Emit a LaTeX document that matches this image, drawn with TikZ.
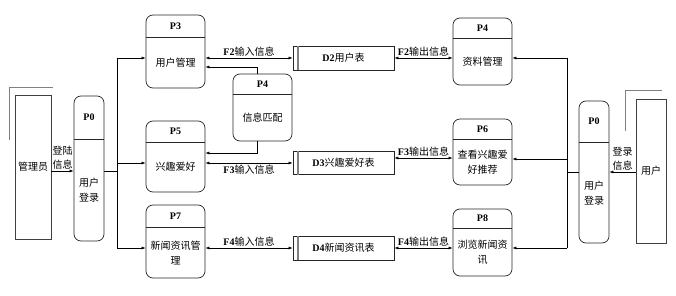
\documentclass[tikz,border=0pt]{standalone}
\usepackage{fontspec}
\setmainfont{Liberation Serif}
\newfontfamily\cjk{Noto Sans CJK SC}[BoldFont={Noto Sans CJK SC}]
\usepackage{tikz}
\usetikzlibrary{arrows.meta,positioning,calc}

\begin{document}
\begin{tikzpicture}[
  x=1pt, y=-1pt,
  every node/.style={font=\fontsize{10}{15}\selectfont\bfseries},
  proc/.style    ={draw=black!85, line width=0.7pt, rounded corners=7pt, minimum width=59pt, inner sep=0pt},
  pid/.style     ={minimum width=59pt, inner sep=0pt},
  ptext/.style   ={align=center, inner sep=0pt, font=\fontsize{10}{15}\selectfont\cjk},
  divider/.style ={draw=black!85, line width=0.8pt},
  store/.style   ={draw=black!85, line width=0.7pt, minimum width=101pt, minimum height=24pt, inner sep=0pt},
  storebar/.style={draw=gray, line width=1.6pt},
  entity/.style  ={draw=black!75, line width=0.7pt, inner sep=0pt, align=center, font=\fontsize{10}{15}\selectfont\cjk},
  shade/.style   ={draw=gray, line width=1.6pt},
  flow/.style    ={-{Latex[length=4pt,width=3pt]}, line width=0.6pt},
  dflow/.style   ={{Latex[length=4pt,width=3pt]}-{Latex[length=4pt,width=3pt]}, line width=0.6pt},
  lbl/.style     ={inner sep=1pt, align=center},
  clbl/.style    ={inner sep=1pt, align=center, font=\fontsize{10}{14}\selectfont\cjk},
]
  \useasboundingbox (0,0) rectangle (676,296);

  % external entities
  \node[entity, minimum width=36pt, minimum height=144pt] (admin) at (33,167) {管理员};
  \draw[shade] ([xshift=-5pt,yshift=-45pt]admin.north west) -- ([xshift=-5pt,yshift=7pt]admin.north west)
               -- ([xshift=2pt,yshift=7pt]admin.north east);
  \node[entity, minimum width=30pt, minimum height=144pt] (user) at (651,171) {用户};
  \draw[shade] ([xshift=-10pt,yshift=-32pt]user.north west) -- ([xshift=-10pt,yshift=8pt]user.north west)
               -- ([xshift=-4pt,yshift=8pt]user.north east);

  % processes
  \node[proc, minimum width=30pt, minimum height=145pt] (p0a) at (89,168.5) {};
  \node[pid, minimum width=30pt, minimum height=43pt, below=0pt of p0a.north] (p0a-id) {P0};
  \draw[divider] (p0a-id.south -| p0a.west) -- (p0a-id.south -| p0a.east);
  \node[ptext] (p0a-txt) at ($(p0a-id.south)!0.5!(p0a.south)$) {用户\\登录};

  \node[proc, minimum height=73pt] (p3) at (175.5,51.5) {};
  \node[pid, minimum height=22pt, below=0pt of p3.north] (p3-id) {P3};
  \draw[divider] (p3-id.south -| p3.west) -- (p3-id.south -| p3.east);
  \node[ptext] (p3-txt) at ($(p3-id.south)!0.5!(p3.south)$) {用户管理};

  \node[proc, minimum height=71pt] (p5) at (175.5,156.5) {};
  \node[pid, minimum height=21pt, below=0pt of p5.north] (p5-id) {P5};
  \draw[divider] (p5-id.south -| p5.west) -- (p5-id.south -| p5.east);
  \node[ptext] (p5-txt) at ($(p5-id.south)!0.5!(p5.south)$) {兴趣爱好};

  \node[proc, minimum height=73pt] (p7) at (175.5,241.5) {};
  \node[pid, minimum height=22pt, below=0pt of p7.north] (p7-id) {P7};
  \draw[divider] (p7-id.south -| p7.west) -- (p7-id.south -| p7.east);
  \node[ptext] (p7-txt) at ($(p7-id.south)!0.5!(p7.south)$) {新闻资讯管\\理};

  \node[proc, minimum height=67pt] (p4m) at (262.5,107.5) {};
  \node[pid, minimum height=20pt, below=0pt of p4m.north] (p4m-id) {P4};
  \draw[divider] (p4m-id.south -| p4m.west) -- (p4m-id.south -| p4m.east);
  \node[ptext] (p4m-txt) at ($(p4m-id.south)!0.5!(p4m.south)$) {信息匹配};

  \node[proc, minimum height=67pt] (p4) at (482.5,51.5) {};
  \node[pid, minimum height=20pt, below=0pt of p4.north] (p4-id) {P4};
  \draw[divider] (p4-id.south -| p4.west) -- (p4-id.south -| p4.east);
  \node[ptext] (p4-txt) at ($(p4-id.south)!0.5!(p4.south)$) {资料管理};

  \node[proc, minimum height=66pt] (p6) at (482.5,152) {};
  \node[pid, minimum height=20pt, below=0pt of p6.north] (p6-id) {P6};
  \draw[divider] (p6-id.south -| p6.west) -- (p6-id.south -| p6.east);
  \node[ptext] (p6-txt) at ($(p6-id.south)!0.5!(p6.south)$) {查看兴趣爱\\好推荐};

  \node[proc, minimum height=67pt] (p8) at (482.5,242.5) {};
  \node[pid, minimum height=19pt, below=0pt of p8.north] (p8-id) {P8};
  \draw[divider] (p8-id.south -| p8.west) -- (p8-id.south -| p8.east);
  \node[ptext] (p8-txt) at ($(p8-id.south)!0.5!(p8.south)$) {浏览新闻资\\讯};

  \node[proc, minimum width=30pt, minimum height=142pt] (p0b) at (594,172) {};
  \node[pid, minimum width=30pt, minimum height=41pt, below=0pt of p0b.north] (p0b-id) {P0};
  \draw[divider] (p0b-id.south -| p0b.west) -- (p0b-id.south -| p0b.east);
  \node[ptext] (p0b-txt) at ($(p0b-id.south)!0.5!(p0b.south)$) {用户\\登录};

  % data stores
  \node[store] (d2) at (343.5,58) {D2\cjk 用户表};
  \draw[storebar] ([xshift=5.5pt]d2.north west) -- ([xshift=5.5pt]d2.south west);
  \node[store, minimum height=23pt] (d3) at (343.5,163) {D3\cjk 兴趣爱好表};
  \draw[storebar] ([xshift=5.5pt]d3.north west) -- ([xshift=5.5pt]d3.south west);
  \node[store] (d4) at (343.5,248) {D4\cjk 新闻资讯表};
  \draw[storebar] ([xshift=5.5pt]d4.north west) -- ([xshift=5.5pt]d4.south west);

  % buses
  \coordinate (lbus) at (117,0);
  \coordinate (rbus) at (567,0);

  % left side flows
  \draw[flow] ([yshift=-4pt]admin.east) -- ([yshift=-4pt]admin.east -| p0a.west)
    node[clbl, midway, above] {登陆\\信息};
  \draw[line width=0.6pt] ([yshift=-2.5pt]p0a.east) -- ([yshift=-2.5pt]p0a.east -| lbus);
  \draw[line width=0.6pt] (lbus |- d2.west) -- (lbus |- d4.west);
  \draw[flow] (lbus |- d2.west) -- (d2.west -| p3.west);
  \draw[flow] (lbus |- d3.west) -- (d3.west -| p5.west);
  \draw[flow] (lbus |- d4.west) -- (d4.west -| p7.west);

  \draw[flow] ([xshift=-5.5pt]p4m.north) |- ([yshift=-15.5pt]p3.east);
  \draw[flow] ([xshift=-5.5pt]p4m.south) |- ([yshift=3.5pt]p5.east);

  \draw[dflow] (d2.west -| p3.east) -- (d2.west) node[lbl, midway, above] {F2\cjk 输入信息};
  \draw[dflow] (d3.west -| p5.east) -- (d3.west) node[lbl, midway, below, yshift=-1pt] {F3\cjk 输入信息};
  \draw[dflow] (d4.west -| p7.east) -- (d4.west) node[lbl, midway, above] {F4\cjk 输入信息};

  % right side flows
  \draw[dflow] (d2.east) -- (d2.east -| p4.west) node[lbl, midway, above] {F2\cjk 输出信息};
  \draw[dflow] ([yshift=5pt]d3.east) -- ([yshift=5pt]d3.east -| p6.west) node[lbl, midway, above] {F3\cjk 输出信息};
  \draw[dflow] (d4.east) -- (d4.east -| p8.west) node[lbl, midway, above] {F4\cjk 输出信息};

  \draw[line width=0.6pt] (rbus |- d2.east) -- (rbus |- d4.east);
  \draw[flow] (rbus |- d2.east) -- (d2.east -| p4.east);
  \draw[flow] ([yshift=-7pt]p6.east -| rbus) -- ([yshift=-7pt]p6.east);
  \draw[flow] (rbus |- d4.east) -- (d4.east -| p8.east);
  \draw[line width=0.6pt] (p0b.west) -- (p0b.west -| rbus);
  \draw[flow] (user.west |- p0b.east) -- (p0b.east)
    node[clbl, midway, above] {登录\\信息};
\end{tikzpicture}
\end{document}
